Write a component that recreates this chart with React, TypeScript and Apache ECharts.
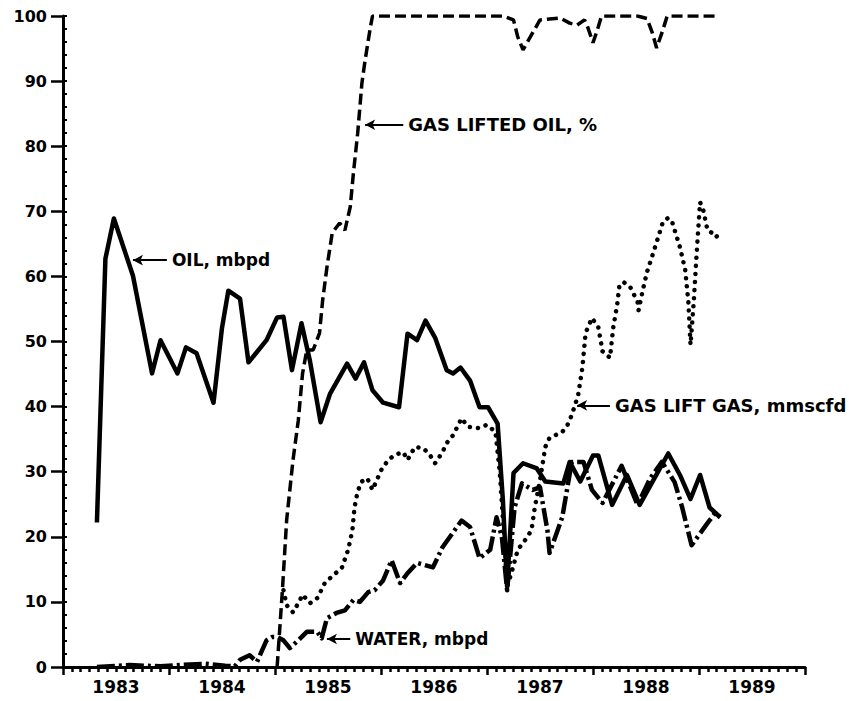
import React, { useEffect, useRef } from 'react';
import * as echarts from 'echarts';

const yearLabels = ['1983', '1984', '1985', '1986', '1987', '1988', '1989'];

const oilYears = [1983.32, 1983.40, 1983.48, 1983.66, 1983.84, 1983.92, 1984.08, 1984.16, 1984.26, 1984.42, 1984.50, 1984.56, 1984.67, 1984.75, 1984.92, 1985.02, 1985.08, 1985.16, 1985.25, 1985.33, 1985.43, 1985.52, 1985.68, 1985.76, 1985.84, 1985.92, 1986.02, 1986.17, 1986.25, 1986.34, 1986.42, 1986.51, 1986.62, 1986.68, 1986.75, 1986.84, 1986.93, 1987.01, 1987.10, 1987.15, 1987.19, 1987.25, 1987.34, 1987.47, 1987.55, 1987.72, 1987.78, 1987.88, 1988.00, 1988.05, 1988.18, 1988.32, 1988.44, 1988.58, 1988.71, 1988.82, 1988.92, 1989.01, 1989.10, 1989.20];
const oilValues = [22.2, 62.7, 68.9, 60.1, 45.1, 50.2, 45.1, 49.1, 48.2, 40.6, 52.1, 57.8, 56.6, 46.8, 50.2, 53.7, 53.8, 45.6, 52.8, 47.0, 37.6, 42.0, 46.6, 44.3, 46.8, 42.5, 40.6, 39.9, 51.2, 50.2, 53.2, 50.6, 45.6, 45.1, 46.0, 44.0, 39.9, 39.9, 37.4, 25.6, 12.3, 29.8, 31.3, 30.5, 28.5, 28.2, 31.5, 28.5, 32.5, 32.5, 24.9, 29.5, 24.9, 29.0, 32.8, 29.5, 25.8, 29.5, 24.5, 23.0];

const waterYears = [1983.32, 1983.63, 1983.92, 1984.20, 1984.34, 1984.53, 1984.62, 1984.67, 1984.76, 1984.83, 1984.92, 1984.97, 1985.02, 1985.08, 1985.14, 1985.22, 1985.30, 1985.40, 1985.44, 1985.49, 1985.58, 1985.66, 1985.74, 1985.80, 1985.88, 1985.94, 1986.02, 1986.10, 1986.18, 1986.25, 1986.34, 1986.49, 1986.58, 1986.76, 1986.84, 1986.93, 1987.03, 1987.09, 1987.14, 1987.19, 1987.26, 1987.33, 1987.43, 1987.50, 1987.57, 1987.59, 1987.71, 1987.80, 1987.91, 1987.99, 1988.09, 1988.27, 1988.42, 1988.54, 1988.65, 1988.77, 1988.84, 1988.93, 1989.08, 1989.15, 1989.20];
const waterValues = [0, 0.3, 0.1, 0.4, 0.5, 0.2, 0.1, 1.1, 1.8, 0.8, 4.1, 4.6, 4.6, 4.1, 2.9, 4.1, 5.4, 5.4, 4.4, 7.5, 8.3, 8.7, 10.3, 10.0, 11.5, 11.8, 13.3, 16.4, 12.9, 14.4, 16.0, 15.3, 18.4, 22.5, 21.5, 16.7, 18.0, 23.0, 20.0, 11.8, 24.5, 28.2, 27.2, 27.6, 21.0, 17.5, 23.0, 31.5, 31.5, 27.2, 25.2, 30.9, 24.9, 29.0, 31.5, 28.4, 24.6, 18.7, 22.1, 23.6, 23.0];

const gasLiftYears = [1985.08, 1985.11, 1985.17, 1985.22, 1985.26, 1985.33, 1985.40, 1985.47, 1985.55, 1985.63, 1985.69, 1985.73, 1985.75, 1985.78, 1985.82, 1985.87, 1985.92, 1985.96, 1986.01, 1986.07, 1986.13, 1986.21, 1986.25, 1986.32, 1986.40, 1986.46, 1986.51, 1986.58, 1986.62, 1986.68, 1986.76, 1986.82, 1986.92, 1987.00, 1987.08, 1987.12, 1987.17, 1987.19, 1987.24, 1987.29, 1987.36, 1987.42, 1987.45, 1987.50, 1987.55, 1987.59, 1987.71, 1987.76, 1987.80, 1987.86, 1987.90, 1987.93, 1987.99, 1988.05, 1988.09, 1988.16, 1988.19, 1988.23, 1988.25, 1988.29, 1988.35, 1988.42, 1988.43, 1988.47, 1988.51, 1988.57, 1988.63, 1988.66, 1988.71, 1988.75, 1988.82, 1988.87, 1988.90, 1988.92, 1988.95, 1988.98, 1989.01, 1989.04, 1989.08, 1989.12, 1989.16, 1989.20];
const gasLiftValues = [11.8, 9.5, 8.4, 9.8, 11.1, 9.8, 10.6, 12.9, 14.1, 15.2, 18.0, 21.0, 24.5, 27.0, 28.5, 29.0, 27.2, 28.7, 30.5, 31.8, 32.6, 33.0, 31.8, 33.8, 33.6, 32.6, 31.3, 33.0, 34.4, 35.6, 38.2, 36.9, 36.7, 37.2, 36.1, 30.0, 18.0, 12.3, 15.0, 18.0, 19.5, 21.0, 24.4, 28.7, 33.8, 35.2, 36.1, 37.2, 38.7, 41.8, 46.0, 51.3, 53.6, 52.2, 48.5, 47.5, 52.0, 55.9, 58.7, 59.1, 58.4, 56.1, 54.8, 57.9, 60.7, 63.7, 66.8, 68.4, 69.0, 68.2, 64.5, 61.0, 56.0, 49.5, 56.0, 64.1, 71.4, 70.2, 67.1, 66.7, 66.0, 66.8];

const liftedOilYears = [1985.02, 1985.07, 1985.11, 1985.17, 1985.22, 1985.26, 1985.30, 1985.36, 1985.42, 1985.45, 1985.49, 1985.54, 1985.61, 1985.66, 1985.71, 1985.74, 1985.78, 1985.82, 1985.85, 1985.90, 1985.92, 1987.15, 1987.25, 1987.29, 1987.34, 1987.43, 1987.50, 1987.69, 1987.78, 1987.85, 1987.92, 1987.95, 1988.00, 1988.04, 1988.08, 1988.42, 1988.51, 1988.56, 1988.60, 1988.65, 1988.70, 1989.18];
const liftedOilValues = [0, 11.8, 22.6, 31.8, 37.9, 45.1, 48.7, 48.7, 51.3, 56.4, 61.4, 66.7, 68.2, 67.1, 70.7, 75.9, 82.0, 89.7, 93.2, 98.3, 100, 100, 99.4, 96.8, 94.8, 97.4, 99.4, 99.7, 98.9, 98.6, 99.4, 98.3, 95.9, 97.8, 100, 100, 99.6, 97.4, 95.1, 97.4, 100, 100];

// annotation leaders: text, start year (arrow tip), end year, value
const oilNote = { text: 'OIL, mbpd', from: 1983.66, to: 1983.98, value: 62.5, size: 17 };
const liftedNote = { text: 'GAS LIFTED OIL, %', from: 1985.85, to: 1986.21, value: 83.3, size: 18 };
const gasNote = { text: 'GAS LIFT GAS, mmscfd', from: 1987.85, to: 1988.16, value: 40.2, size: 18 };
const waterNote = { text: 'WATER, mbpd', from: 1985.49, to: 1985.71, value: 4.3, size: 17 };

const FONT = 'DejaVu Sans';

const pairs = (xs: number[], ys: number[]) => xs.map((x, i) => [x, ys[i]]);

const note = (n: { text: string; from: number; to: number; value: number; size: number }) => ({
  silent: true,
  symbol: ['arrow', 'none'],
  symbolSize: [8, 10],
  lineStyle: { type: 'solid', color: '#000', width: 2 },
  label: {
    show: true,
    position: 'end',
    distance: 5,
    formatter: n.text,
    color: '#000',
    fontFamily: FONT,
    fontWeight: 'bold',
    fontSize: n.size,
  },
  data: [[{ coord: [n.from, n.value] }, { coord: [n.to, n.value] }]],
});

export default function App() {
  const ref = useRef<HTMLDivElement>(null);
  useEffect(() => {
    if (!ref.current) return;
    const chart = echarts.init(ref.current, undefined, { renderer: 'svg' });
    chart.setOption({
      animation: false,
      backgroundColor: '#fff',
      grid: { left: 63, right: 44, top: 16, bottom: 34, outerBoundsMode: 'none' },
      xAxis: [
        {
          type: 'value',
          min: 1983,
          max: 1990,
          interval: 1,
          axisLine: { show: true, lineStyle: { color: '#000', width: 3 } },
          axisTick: { show: true, length: 8, lineStyle: { color: '#000', width: 2.5 } },
          minorTick: { show: true, splitNumber: 12, length: 5, lineStyle: { color: '#000', width: 2.5 } },
          axisLabel: { show: false },
          splitLine: { show: false },
        },
        {
          type: 'category',
          data: yearLabels,
          position: 'bottom',
          boundaryGap: true,
          axisLine: { show: false },
          axisTick: { show: false },
          splitLine: { show: false },
          axisLabel: { margin: 11, color: '#000', fontFamily: FONT, fontWeight: 'bold', fontSize: 17 },
        },
      ],
      yAxis: [
        {
          type: 'value',
          min: 0,
          max: 100,
          interval: 10,
          axisLine: { show: true, lineStyle: { color: '#000', width: 3 } },
          axisTick: { show: true, length: 12, lineStyle: { color: '#000', width: 2.5 } },
          axisLabel: { margin: 16, color: '#000', fontFamily: FONT, fontWeight: 'bold', fontSize: 16 },
          splitLine: { show: false },
        },
        {
          type: 'value',
          min: 0,
          max: 100,
          interval: 2,
          position: 'left',
          axisLine: { show: false },
          axisTick: { show: true, inside: true, length: 4, lineStyle: { color: '#000', width: 2 } },
          axisLabel: { show: false },
          splitLine: { show: false },
        },
      ],
      series: [
        {
          name: 'Gas lifted oil',
          type: 'line',
          data: pairs(liftedOilYears, liftedOilValues),
          symbol: 'none',
          lineStyle: { color: '#000', width: 3.5, type: [11, 5] },
          markLine: note(liftedNote),
        },
        {
          name: 'Gas lift gas',
          type: 'line',
          data: pairs(gasLiftYears, gasLiftValues),
          symbol: 'none',
          lineStyle: { color: '#000', width: 4.5, type: [0.1, 8], cap: 'round' },
          markLine: note(gasNote),
        },
        {
          name: 'Water',
          type: 'line',
          data: pairs(waterYears, waterValues),
          symbol: 'none',
          lineStyle: { color: '#000', width: 4.5, type: [18, 4, 3, 4], join: 'round' },
          markLine: note(waterNote),
        },
        {
          name: 'Oil',
          type: 'line',
          data: pairs(oilYears, oilValues),
          symbol: 'none',
          lineStyle: { color: '#000', width: 4.5, join: 'round' },
          markLine: note(oilNote),
        },
      ],
    });
    return () => chart.dispose();
  }, []);
  return <div ref={ref} style={{ position: 'fixed', left: 0, top: 0, width: 849, height: 701 }} />;
}
